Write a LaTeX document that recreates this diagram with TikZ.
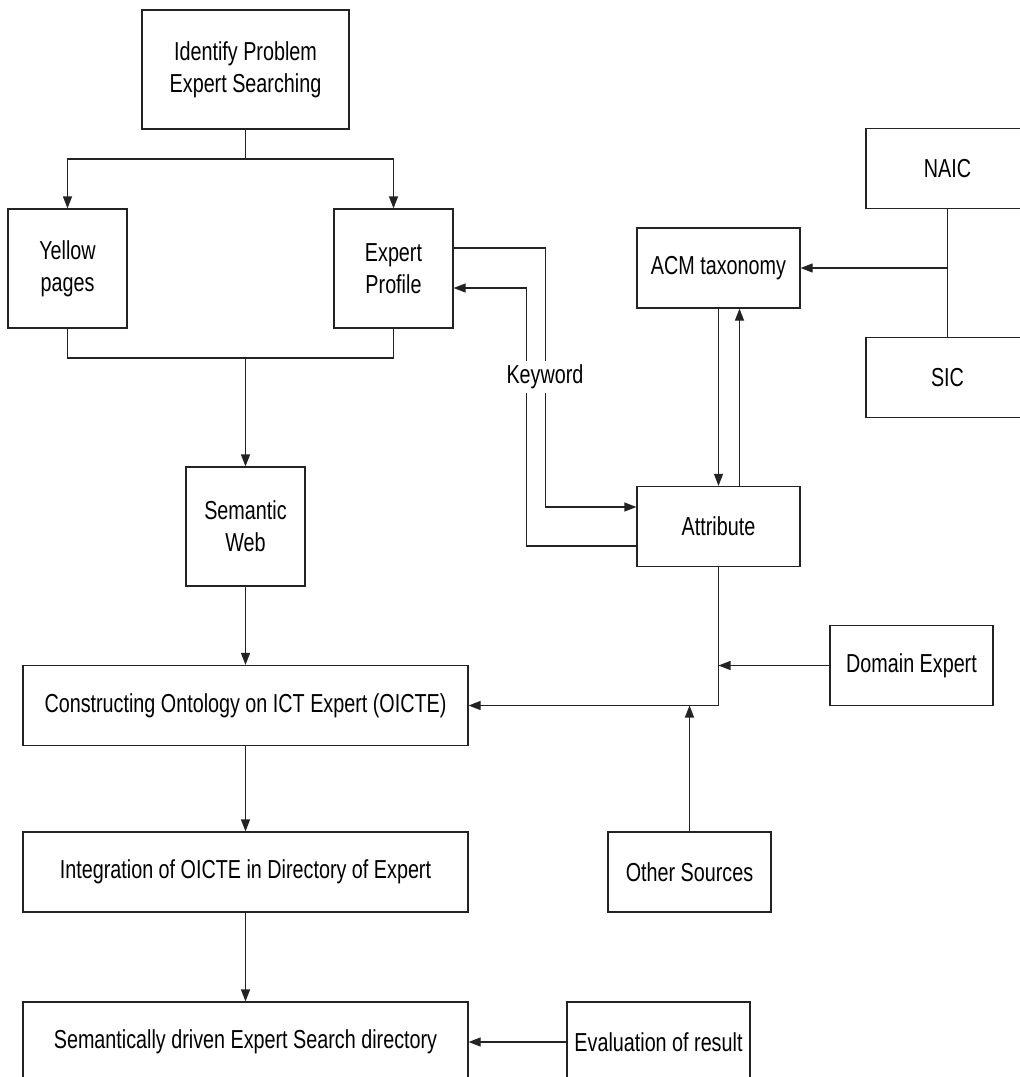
\documentclass[tikz,border=0pt]{standalone}
\usepackage{fontspec}
\setmainfont{Liberation Sans}[FakeStretch=0.76]
\usetikzlibrary{arrows.meta}
\definecolor{edge}{RGB}{35, 35, 35}

\begin{document}
\begin{tikzpicture}[x=1pt, y=-1pt, font=\fontsize{26}{32}\selectfont,
	box/.style={draw=edge, line width=1.2pt, inner sep=0pt, align=center},
	squarebox/.style={box, minimum width=119pt, minimum height=119pt},
	widebox/.style={box, minimum width=445pt, minimum height=80pt},
	sidebox/.style={box, minimum width=163pt, minimum height=80pt},
	link/.style={draw=edge, line width=1.2pt},
	arr/.style={link, -{Triangle[length=12pt, width=9pt]}}]
			\clip (0, 0) rectangle (1020, 1077);
			\node [box, minimum width=207pt, minimum height=119pt] (ident) at (245.5, 69.5) {Identify Problem\\Expert Searching};
			\node [squarebox] (yellow) at (67.5, 268.5) {Yellow\\pages};
			\node [squarebox] (profile) at (393.5, 268.5) {Expert\\Profile};
			\node [sidebox] (naic) at (947.5, 168.5) {NAIC};
			\node [sidebox] (acm) at (718.5, 268) {ACM taxonomy};
			\node [sidebox] (sic) at (947.5, 377.5) {SIC};
			\node [squarebox] (semweb) at (245.5, 526.5) {Semantic\\Web};
			\node [sidebox] (attr) at (718.5, 526.5) {Attribute};
			\node [sidebox] (domain) at (911.5, 665.5) {Domain Expert};
			\node [widebox] (onto) at (245.5, 705.5) {Constructing Ontology on ICT Expert (OICTE)};
			\node [widebox] (integ) at (245.5, 872) {Integration of OICTE in Directory of Expert};
			\node [sidebox] (other) at (689.5, 872) {Other Sources};
			\node [widebox] (directory) at (245.5, 1042) {Semantically driven Expert Search directory};
			\node [sidebox, minimum width=183pt] (eval) at (658.5, 1042) {Evaluation of result};
			\coordinate (split) at (245.5, 159);
			\coordinate (merge) at (245.5, 358);
			\coordinate (join) at (attr.south |- onto.east);
			\draw [link] (ident) -- (split);
			\draw [arr] (split) -| (yellow.north);
			\draw [arr] (split) -| (profile.north);
			\draw [link] (yellow.south) |- (merge) -| (profile.south);
			\draw [arr] (merge) -- (semweb.north);
			\draw [arr] (semweb) -- (onto);
			\draw [arr] (onto) -- (integ);
			\draw [arr] (integ) -- (directory);
			\draw [arr] (eval) -- (directory);
			\draw [arr] ([yshift=20.5pt]profile.east) -- ++(92, 0) |- ([yshift=19.5pt]attr.west);
			\draw [arr] ([yshift=-19.5pt]attr.west) -- ++(-110, 0) |- ([yshift=-19.5pt]profile.east);
			\node [fill=white, inner sep=4pt] (keyword) at (545, 377) {Keyword};
			\draw [arr] (acm.south) -- (attr.north);
			\draw [arr] ([xshift=21pt]attr.north) -- ([xshift=21pt]acm.south);
			\draw [link] (naic) -- (sic);
			\draw [arr] (naic.south |- acm.east) -- (acm.east);
			\draw [arr] (attr.south) -- (join) -- (onto.east);
			\draw [arr] (domain.west) -- (domain.west -| attr.south);
			\draw [arr] (other.north) -- (other.north |- onto.east);
\end{tikzpicture}
\end{document}
